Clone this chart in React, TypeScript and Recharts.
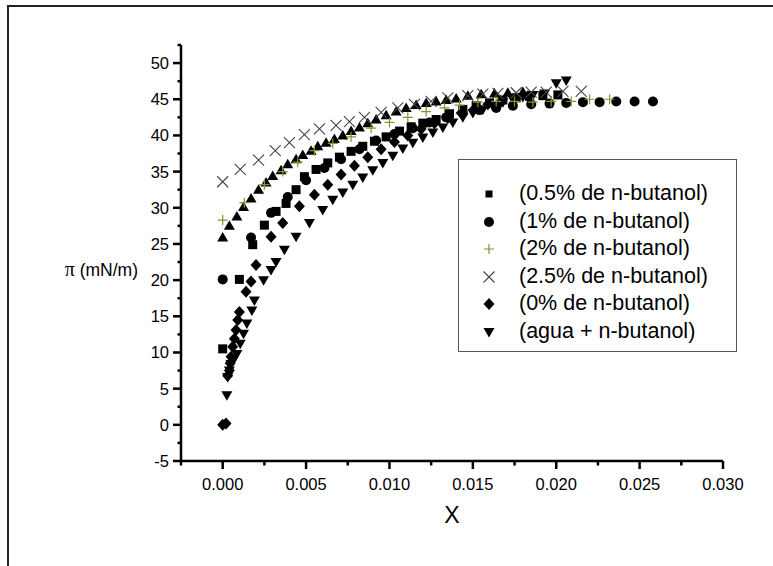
import React from "react";
import { ScatterChart, Scatter, XAxis, YAxis } from "recharts";

// x = fracción molar, y = presión superficial π (mN/m)
const serie05: [number, number][] = [
  [0, 10.5], [0.001, 20.1], [0.0018, 24.9], [0.0025, 27.6], [0.0032, 29.5], [0.0038, 30.6],
  [0.0044, 32.5], [0.0049, 34.3], [0.0056, 35.3], [0.0063, 36.2], [0.007, 37.0], [0.0077, 37.8],
  [0.0084, 38.5], [0.0091, 39.2], [0.0098, 39.8], [0.0106, 40.6], [0.0113, 41.2], [0.012, 41.7],
  [0.0128, 42.2], [0.0136, 43.0], [0.0144, 43.6], [0.0152, 44.1], [0.016, 44.5], [0.0168, 44.9],
  [0.0176, 45.2], [0.0184, 45.4], [0.0192, 45.5], [0.0201, 45.6],
];

const serie1: [number, number][] = [
  [0, 20.1], [0.0017, 25.9], [0.0029, 29.3], [0.0039, 31.5], [0.005, 33.8], [0.0061, 35.5],
  [0.0071, 36.7], [0.0082, 38.1], [0.0092, 39.3], [0.0103, 40.2], [0.0114, 41.0], [0.0124, 41.8],
  [0.0134, 42.5], [0.0144, 43.1], [0.0154, 43.5], [0.0164, 43.8], [0.0174, 44.1], [0.0185, 44.3],
  [0.0196, 44.4], [0.0206, 44.5], [0.0216, 44.6], [0.0226, 44.6], [0.0236, 44.7], [0.0247, 44.7],
  [0.0258, 44.7],
];

const serie2: [number, number][] = [
  [0, 28.3], [0.0013, 30.7], [0.0025, 33.2], [0.0036, 35.0], [0.0045, 36.3], [0.0055, 37.9],
  [0.0066, 38.9], [0.0077, 39.8], [0.0089, 41.0], [0.01, 41.8], [0.0111, 42.5], [0.0122, 43.3],
  [0.0133, 43.8], [0.0142, 44.2], [0.0153, 44.6], [0.0164, 44.7], [0.0175, 44.7], [0.0186, 44.6],
  [0.0197, 44.7], [0.0209, 44.7], [0.022, 45.0], [0.0232, 45.0],
];

const serie25: [number, number][] = [
  [0, 33.6], [0.00105, 35.3], [0.00215, 36.6], [0.00315, 37.9], [0.004, 39.0], [0.0049, 40.1],
  [0.0058, 40.9], [0.0068, 41.4], [0.0076, 41.9], [0.0085, 42.5], [0.0095, 43.2], [0.0105, 43.8],
  [0.0115, 44.3], [0.0125, 44.7], [0.0135, 45.2], [0.0147, 45.5], [0.0156, 45.7], [0.0165, 45.8],
  [0.0176, 45.9], [0.0185, 46.0], [0.0194, 46.0], [0.0204, 46.1], [0.0215, 46.1],
];

const serie0: [number, number][] = [
  [0, 0], [0.0002, 0.2], [0.0003, 6.8], [0.0004, 7.5], [0.00045, 8.5], [0.0005, 9.4],
  [0.0006, 10.8], [0.0007, 11.9], [0.0008, 13.1], [0.0009, 14.5], [0.001, 15.6], [0.0014, 18.4],
  [0.0017, 19.8], [0.002, 22.1], [0.0029, 26.0], [0.0036, 27.9], [0.0046, 30.2], [0.0055, 31.8],
  [0.0063, 33.2], [0.0071, 34.6], [0.0079, 35.8], [0.0087, 37.0], [0.0095, 38.1], [0.0103, 39.1],
  [0.0111, 40.0], [0.0119, 40.9], [0.0127, 41.7], [0.0135, 42.4], [0.0143, 43.1], [0.0151, 43.7],
  [0.0159, 44.3], [0.0167, 44.7], [0.0175, 45.1], [0.0183, 45.4],
];

const serieAgua: [number, number][] = [
  [0.00025, 4.1], [0.0003, 6.6], [0.0004, 7.5], [0.0005, 8.4], [0.00065, 9.0], [0.00085, 9.8],
  [0.00105, 11.2], [0.00125, 12.6], [0.00145, 14.0], [0.00175, 15.8], [0.0019, 17.2], [0.00245, 20.0],
  [0.0029, 21.4], [0.0032, 22.5], [0.0037, 24.2], [0.0044, 26.0], [0.0052, 27.9], [0.006, 29.7],
  [0.0066, 31.1], [0.0072, 32.1], [0.0078, 33.2], [0.0084, 34.2], [0.009, 35.2], [0.0096, 36.2],
  [0.0102, 37.2], [0.0108, 38.2], [0.0114, 39.0], [0.012, 39.7], [0.0126, 40.4], [0.0132, 41.1],
  [0.0138, 41.8], [0.0144, 42.5], [0.015, 43.1], [0.0156, 43.6], [0.0162, 44.1], [0.0168, 44.6],
  [0.0174, 45.0], [0.018, 45.3], [0.0186, 45.6], [0.0193, 45.8], [0.02, 47.2], [0.0206, 47.6],
];

// serie sin entrada en la leyenda (triángulos hacia arriba)
const serieExtra: [number, number][] = [
  [0, 25.9], [0.0004, 27.5], [0.00085, 28.8], [0.00125, 30.1], [0.0017, 31.3], [0.00215, 32.5],
  [0.0026, 33.5], [0.003, 34.4], [0.0035, 35.2], [0.0039, 36.0], [0.0044, 36.7], [0.0048, 37.3],
  [0.0053, 37.9], [0.0057, 38.5], [0.0062, 39.0], [0.0067, 39.5], [0.0072, 40.0], [0.0077, 40.6],
  [0.0082, 41.1], [0.0087, 41.7], [0.0092, 42.2], [0.0098, 42.8], [0.0104, 43.3], [0.011, 43.8],
  [0.0116, 44.2], [0.0122, 44.5], [0.0128, 44.7], [0.0134, 44.9], [0.014, 45.1], [0.0147, 45.5],
  [0.0155, 45.7], [0.0163, 45.8], [0.0171, 45.9], [0.018, 46.0],
];

const xMajor = [0, 0.005, 0.01, 0.015, 0.02, 0.025, 0.03];
const xMinor = [-0.0025, 0.0025, 0.0075, 0.0125, 0.0175, 0.0225, 0.0275];
const yMajor = [-5, 0, 5, 10, 15, 20, 25, 30, 35, 40, 45, 50];
const yMinor = [-2.5, 2.5, 7.5, 12.5, 17.5, 22.5, 27.5, 32.5, 37.5, 42.5, 47.5, 52.5];

const FONT = "'Liberation Sans', Arial, sans-serif";
const OLIVE = "#8f8f2e";

const toPts = (arr: [number, number][]) => arr.map(([x, y]) => ({ x, y }));
const isMajor = (list: number[], v: number) => list.some((m) => Math.abs(m - v) < 1e-9);

const SquareShape = ({ cx, cy }: any) => <rect x={cx - 4.5} y={cy - 4.5} width={9} height={9} fill="#000" />;
const CircleShape = ({ cx, cy }: any) => <circle cx={cx} cy={cy} r={5} fill="#000" />;
const PlusShape = ({ cx, cy }: any) => (
  <path d={`M${cx - 5},${cy}H${cx + 5}M${cx},${cy - 5}V${cy + 5}`} stroke={OLIVE} strokeWidth={1.2} />
);
const CrossShape = ({ cx, cy }: any) => (
  <path d={`M${cx - 5.5},${cy - 5.5}L${cx + 5.5},${cy + 5.5}M${cx - 5.5},${cy + 5.5}L${cx + 5.5},${cy - 5.5}`} stroke="#444" strokeWidth={1.1} />
);
const DiamondShape = ({ cx, cy }: any) => (
  <path d={`M${cx},${cy - 6}L${cx + 5.5},${cy}L${cx},${cy + 6}L${cx - 5.5},${cy}Z`} fill="#000" />
);
const TriDownShape = ({ cx, cy }: any) => (
  <path d={`M${cx - 5.5},${cy - 4}L${cx + 5.5},${cy - 4}L${cx},${cy + 5.5}Z`} fill="#000" />
);
const TriUpShape = ({ cx, cy }: any) => (
  <path d={`M${cx - 5.5},${cy + 4}L${cx + 5.5},${cy + 4}L${cx},${cy - 5.5}Z`} fill="#000" />
);
const SmallSquare = ({ cx, cy }: any) => <rect x={cx - 3.5} y={cy - 3.5} width={7} height={7} fill="#000" />;

const legendItems = [
  { name: "(0.5% de n-butanol)", Shape: SmallSquare },
  { name: "(1% de n-butanol)", Shape: CircleShape },
  { name: "(2% de n-butanol)", Shape: PlusShape },
  { name: "(2.5% de n-butanol)", Shape: CrossShape },
  { name: "(0% de n-butanol)", Shape: DiamondShape },
  { name: "(agua + n-butanol)", Shape: TriDownShape },
];

function XTick({ x, y, payload }: any) {
  const major = isMajor(xMajor, payload.value);
  return (
    <g>
      <line x1={x} x2={x} y1={y} y2={y + (major ? 8 : 4.5)} stroke="#000" strokeWidth={2.5} />
      {major && (
        <text x={x} y={y + 29} textAnchor="middle" fontSize={16.5} fontFamily={FONT} fill="#000">
          {payload.value.toFixed(3)}
        </text>
      )}
    </g>
  );
}

function YTick({ x, y, payload }: any) {
  const major = isMajor(yMajor, payload.value);
  return (
    <g>
      <line x1={x - (major ? 8 : 3.5)} x2={x} y1={y} y2={y} stroke="#000" strokeWidth={2.5} />
      {major && (
        <text x={x - 12} y={y + 6} textAnchor="end" fontSize={16.5} fontFamily={FONT} fill="#000">
          {payload.value}
        </text>
      )}
    </g>
  );
}

function YTitle({ viewBox }: any) {
  const { x, y, width, height } = viewBox;
  return (
    <text x={x + width - 43} y={y + height / 2 + 23} textAnchor="end" fontSize={17.5} fontFamily={FONT} fill="#000">
      <tspan fontFamily="'Liberation Serif', serif" fontSize={20}>π</tspan> (mN/m)
    </text>
  );
}

function XTitle({ viewBox }: any) {
  const { x, y, width } = viewBox;
  return (
    <text x={x + width / 2} y={y + 62} textAnchor="middle" fontSize={23} fontFamily={FONT} fill="#000">
      X
    </text>
  );
}

export default function App() {
  return (
    <div style={{ position: "absolute", left: 0, top: 0, width: 773, height: 566, background: "#fff" }}>
      <div
        style={{
          position: "absolute",
          left: 7,
          top: 5,
          width: 766,
          height: 561,
          borderTop: "2px solid #222",
          borderLeft: "2px solid #222",
          boxSizing: "border-box",
        }}
      />
      <ScatterChart width={773} height={566} margin={{ top: 45, right: 50, bottom: 65, left: 121 }}>
        <XAxis
          type="number"
          dataKey="x"
          domain={[-0.0025, 0.03]}
          ticks={[...xMinor, ...xMajor].sort((a, b) => a - b)}
          interval={0}
          tickSize={0}
          tickMargin={0}
          tickLine={false}
          tick={<XTick />}
          axisLine={{ stroke: "#000", strokeWidth: 2.5 }}
          height={40}
          allowDataOverflow
          label={<XTitle />}
        />
        <YAxis
          type="number"
          dataKey="y"
          domain={[-5, 52.5]}
          ticks={[...yMinor, ...yMajor].sort((a, b) => a - b)}
          interval={0}
          tickSize={0}
          tickMargin={0}
          tickLine={false}
          tick={<YTick />}
          axisLine={{ stroke: "#000", strokeWidth: 2.5 }}
          width={60}
          allowDataOverflow
          label={<YTitle />}
        />
        <Scatter data={toPts(serieExtra)} shape={<TriUpShape />} isAnimationActive={false} />
        <Scatter data={toPts(serieAgua)} shape={<TriDownShape />} isAnimationActive={false} />
        <Scatter data={toPts(serie0)} shape={<DiamondShape />} isAnimationActive={false} />
        <Scatter data={toPts(serie05)} shape={<SquareShape />} isAnimationActive={false} />
        <Scatter data={toPts(serie1)} shape={<CircleShape />} isAnimationActive={false} />
        <Scatter data={toPts(serie2)} shape={<PlusShape />} isAnimationActive={false} />
        <Scatter data={toPts(serie25)} shape={<CrossShape />} isAnimationActive={false} />
      </ScatterChart>
      <div
        style={{
          position: "absolute",
          left: 458,
          top: 159,
          width: 279,
          height: 193,
          border: "1px solid #555",
          boxSizing: "border-box",
          background: "#fff",
          fontFamily: FONT,
          fontSize: 21.5,
          paddingTop: 20,
        }}
      >
        {legendItems.map(({ name, Shape }) => (
          <div key={name} style={{ display: "flex", alignItems: "center", height: 27.5 }}>
            <svg width={60} height={27.5} style={{ flex: "none" }}>
              <Shape cx={30} cy={14} />
            </svg>
            <span style={{ whiteSpace: "nowrap" }}>{name}</span>
          </div>
        ))}
      </div>
    </div>
  );
}
